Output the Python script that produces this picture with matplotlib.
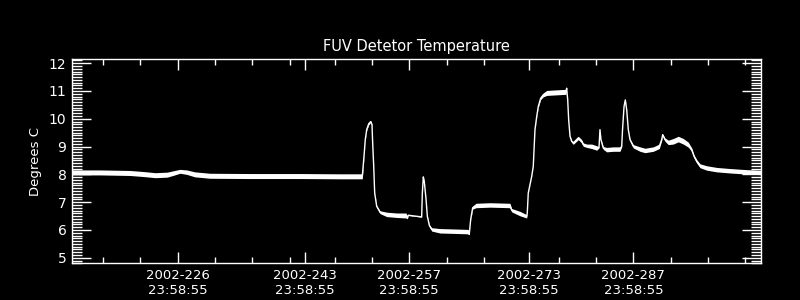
import numpy as np
import matplotlib
matplotlib.use("Agg")
import matplotlib.pyplot as plt

# day of year 2002
day = [211.85, 215.6, 219.6, 221.5, 223.0, 224.6, 225.6, 226.3, 227.2, 228.3,
       230.3, 235.7, 242.4, 247.7, 250.71, 250.94, 251.11, 251.30, 251.57, 251.84,
       252.01, 252.10, 252.24, 252.37, 252.64, 253.08, 253.98, 255.32, 256.56, 256.75,
       256.87, 258.66, 258.75, 258.88, 259.01, 259.25, 259.42, 259.69, 260.00, 261.11,
       262.45, 264.90, 265.03, 265.22, 265.49, 265.93, 267.81, 270.48, 270.71, 271.82,
       272.72, 272.80, 272.93, 273.39, 273.60, 273.83, 274.06, 274.27, 274.59, 274.94,
       275.40, 276.64, 277.98, 278.07, 278.21, 278.34, 278.52, 278.74, 278.96, 279.63,
       280.08, 280.30, 280.75, 281.42, 282.09, 282.40, 282.53, 282.66, 282.97, 283.43,
       284.31, 285.21, 285.44, 285.55, 285.75, 285.92, 286.11, 286.32, 286.55, 286.99,
       287.89, 288.56, 289.67, 290.47, 290.79, 290.93, 291.23, 291.68, 292.34, 293.01,
       293.68, 294.35, 294.81, 295.12, 295.48, 295.92, 296.82, 298.16, 299.94, 302.17,
       304.05]

# detector temperature (deg C)
temp = [8.07, 8.07, 8.05, 8.01, 7.97, 7.99, 8.06, 8.11, 8.08, 8.00,
        7.95, 7.94, 7.94, 7.93, 7.93, 8.65, 9.25, 9.61, 9.82, 9.90,
        9.79, 9.13, 8.29, 7.33, 6.85, 6.64, 6.56, 6.53, 6.52, 6.45,
        6.53, 6.47, 7.33, 7.91, 7.75, 7.09, 6.49, 6.16, 6.02, 5.97,
        5.96, 5.94, 5.84, 6.38, 6.80, 6.88, 6.90, 6.88, 6.71, 6.59,
        6.49, 6.62, 7.33, 7.93, 8.29, 9.61, 10.08, 10.44, 10.74, 10.86,
        10.93, 10.95, 10.97, 11.10, 10.68, 9.96, 9.37, 9.19, 9.13, 9.31,
        9.19, 9.07, 9.03, 9.01, 8.95, 8.97, 9.61, 9.25, 8.95, 8.89,
        8.91, 8.91, 9.01, 9.61, 10.44, 10.68, 10.32, 9.61, 9.25, 9.01,
        8.91, 8.86, 8.91, 9.01, 9.25, 9.43, 9.25, 9.15, 9.19, 9.27,
        9.19, 9.07, 8.89, 8.65, 8.47, 8.31, 8.23, 8.17, 8.13, 8.09,
        8.07]

# half width of the noisy band around the trace
spread = [0.09, 0.09, 0.09, 0.09, 0.09, 0.09, 0.08, 0.07, 0.08, 0.09,
          0.09, 0.09, 0.09, 0.09, 0.09, 0.02, 0.02, 0.03, 0.04, 0.03,
          0.02, 0.01, 0.01, 0.01, 0.03, 0.05, 0.08, 0.08, 0.09, 0.05,
          0.01, 0.01, 0.01, 0.01, 0.01, 0.01, 0.02, 0.03, 0.06, 0.08,
          0.08, 0.08, 0.01, 0.02, 0.05, 0.08, 0.08, 0.08, 0.06, 0.08,
          0.06, 0.01, 0.01, 0.01, 0.01, 0.01, 0.02, 0.03, 0.05, 0.07,
          0.09, 0.09, 0.09, 0.01, 0.01, 0.01, 0.02, 0.04, 0.05, 0.06,
          0.06, 0.06, 0.06, 0.08, 0.08, 0.02, 0.01, 0.02, 0.05, 0.08,
          0.08, 0.08, 0.02, 0.01, 0.01, 0.02, 0.01, 0.01, 0.03, 0.06,
          0.08, 0.08, 0.08, 0.08, 0.04, 0.02, 0.06, 0.08, 0.10, 0.10,
          0.10, 0.09, 0.06, 0.05, 0.06, 0.07, 0.08, 0.08, 0.08, 0.08,
          0.08]

major_days = [226, 243, 257, 273, 287]
major_labels = ["2002-226\n23:58:55", "2002-243\n23:58:55", "2002-257\n23:58:55",
                "2002-273\n23:58:55", "2002-287\n23:58:55"]
minor_days = [216, 221, 231, 236, 241, 247, 252, 262, 267, 277, 282, 292, 297, 302]

d = np.array(day)
t = np.array(temp)
s = np.array(spread)

fig = plt.figure(figsize=(8, 3), dpi=100, facecolor="black")
ax = fig.add_axes([0.09, 0.1223, 0.8609, 0.68], facecolor="black")

ax.fill_between(d, t - s, t + s, color="white", linewidth=0)
ax.plot(d, t, color="white", linewidth=1.0)

ax.set_xlim(211.85, 304.05)
ax.set_ylim(4.82, 12.14)

ax.set_xticks(major_days)
ax.set_xticklabels(major_labels)
ax.set_xticks(minor_days, minor=True)
ax.set_yticks(range(5, 13))
ax.set_yticks(np.arange(48, 122) / 10.0, minor=True)

for sp in ax.spines.values():
    sp.set_color("white")
    sp.set_linewidth(1)

ax.tick_params(axis="x", which="major", direction="in", length=8, width=1, colors="white",
               top=True, labelsize=9.5, pad=4)
ax.tick_params(axis="x", which="minor", direction="in", length=4, width=1, colors="white", top=True)
ax.tick_params(axis="y", which="major", direction="in", length=14, width=1, colors="white",
               right=True, labelsize=10, pad=4)
ax.tick_params(axis="y", which="minor", direction="in", length=7, width=1, colors="white", right=True)

ax.set_ylabel("Degrees C", color="white", fontsize=9.5, labelpad=5)
ax.set_title("FUV Detetor Temperature", color="white", fontsize=10.5, pad=6)

fig.savefig("out.png", dpi=100, facecolor="black")
